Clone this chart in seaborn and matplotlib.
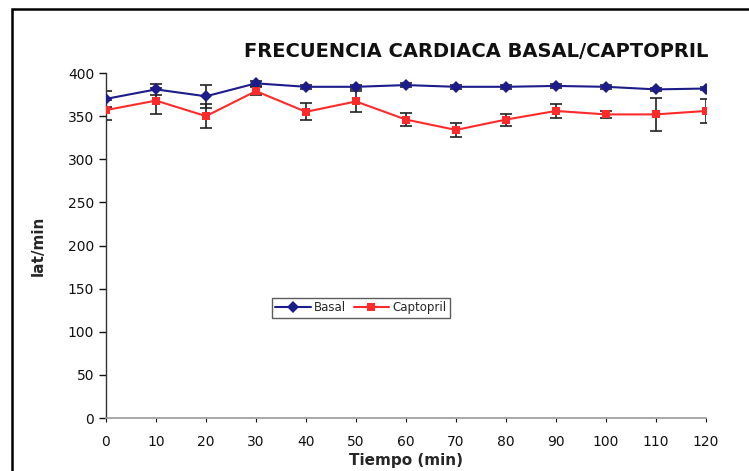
import matplotlib
matplotlib.use("Agg")
import matplotlib.pyplot as plt
from matplotlib.patches import Rectangle
import seaborn as sns
import pandas as pd

# Heart rate over time (min), basal vs captopril, mean and error
tiempo = [0, 10, 20, 30, 40, 50, 60, 70, 80, 90, 100, 110, 120]
basal = [370, 381, 373, 388, 384, 384, 386, 384, 384, 385, 384, 381, 382]
basal_err = [9, 6, 13, 3, 2, 2, 2, 2, 2, 2, 2, 2, 2]
captopril = [357, 368, 350, 379, 355, 367, 346, 334, 346, 356, 352, 352, 356]
captopril_err = [12, 15, 14, 5, 10, 12, 8, 8, 7, 8, 4, 19, 14]

df = pd.DataFrame({
    "Tiempo": tiempo * 2,
    "valor": basal + captopril,
    "serie": ["Basal"] * len(tiempo) + ["Captopril"] * len(tiempo),
})

sns.set_theme(style="white")
plt.rcParams["font.family"] = ["DejaVu Sans"]

fig = plt.figure(figsize=(7.49, 4.71), dpi=100)
ax = fig.add_axes([0.1415, 0.1125, 0.801, 0.7325])

colores = {"Basal": "#1c1c8a", "Captopril": "#ff2a2a"}

# error bars first so markers sit on top
ax.errorbar(tiempo, basal, yerr=basal_err, fmt="none", ecolor="#222222",
            elinewidth=1.2, capsize=4, capthick=1.2, zorder=2)
ax.errorbar(tiempo, captopril, yerr=captopril_err, fmt="none", ecolor="#222222",
            elinewidth=1.2, capsize=4, capthick=1.2, zorder=2)

sns.lineplot(data=df, x="Tiempo", y="valor", hue="serie", style="serie",
             markers={"Basal": "D", "Captopril": "s"}, dashes=False,
             palette=colores, linewidth=1.5, markersize=6,
             markeredgewidth=0, ax=ax, zorder=3)

ax.set_xlim(0, 120)
ax.set_ylim(0, 400)
ax.set_xticks(tiempo)
ax.set_yticks(range(0, 401, 50))
ax.tick_params(axis="both", labelsize=10, colors="#111111")
ax.tick_params(axis="y", direction="out", length=5, width=1, left=True)
ax.tick_params(axis="x", direction="out", length=3, width=0.8, bottom=True, pad=9)

for s in ["top", "right"]:
    ax.spines[s].set_visible(False)
ax.spines["left"].set_color("#333333")
ax.spines["left"].set_linewidth(1)
ax.spines["bottom"].set_color("#999999")
ax.spines["bottom"].set_linewidth(1.2)

ax.set_xlabel("Tiempo (min)", fontsize=11, fontweight="bold", labelpad=3)
ax.set_ylabel("lat/min", fontsize=11, fontweight="bold", labelpad=16)

fig.text(0.636, 0.89, "FRECUENCIA CARDIACA BASAL/CAPTOPRIL", ha="center",
         va="center", fontsize=14, fontweight="bold", color="#111111")

leg = ax.legend(loc="center", bbox_to_anchor=(0.425, 0.32), ncol=2,
                frameon=True, fontsize=8.5, handlelength=3,
                columnspacing=0.6, handletextpad=0.3, borderpad=0.3,
                fancybox=False)
leg.get_frame().set_edgecolor("#333333")
leg.get_frame().set_linewidth(1)
leg.set_title(None)

# outer frame of the chart area
fig.patches.append(Rectangle((12 / 749, -0.1), 1.1, 1 - 9 / 471 + 0.1,
                             transform=fig.transFigure, fill=False,
                             edgecolor="black", linewidth=1.8))

fig.savefig("out.png", dpi=100)
